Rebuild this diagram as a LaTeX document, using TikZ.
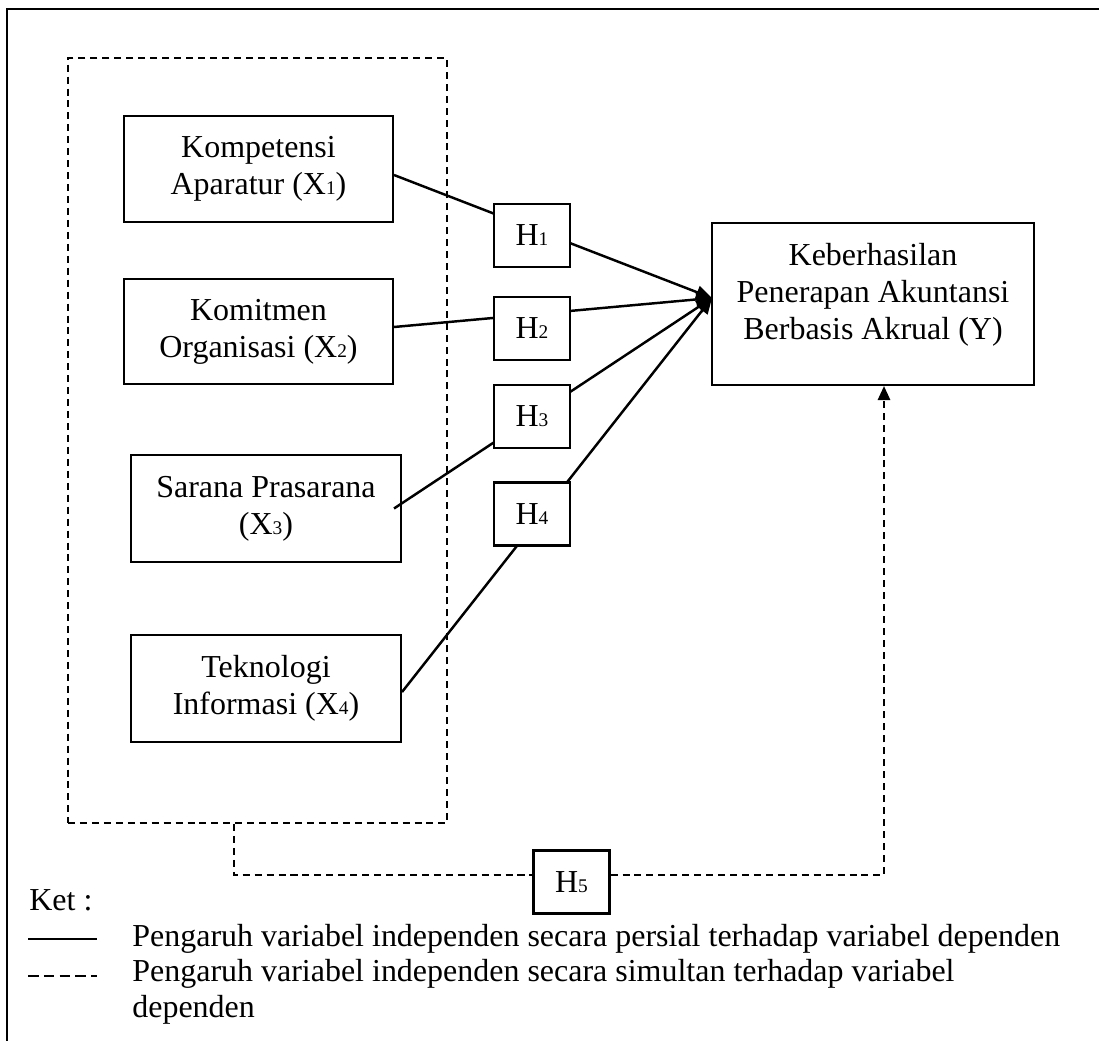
\documentclass[tikz,border=0pt]{standalone}
\usepackage{fontspec}
\setmainfont{Liberation Serif}
\usetikzlibrary{arrows.meta,calc}
% small index digit sitting on the baseline
\newcommand{\smalldigit}[1]{{\fontsize{11}{11}\selectfont #1}}
\begin{document}
\begin{tikzpicture}[x=0.02cm,y=-0.02cm,
  every node/.style={font=\fontsize{18.2}{21.2}\selectfont},
  box/.style={draw,line width=1.2pt,align=center,inner sep=0pt},
  hbox/.style={box,fill=white,minimum width=1.52cm,minimum height=1.26cm},
  link/.style={line width=1.4pt,-{Triangle[length=9pt,width=7.5pt]}},
  dashline/.style={line width=1.2pt,dash pattern=on 4pt off 2.8pt},
  legend/.style={anchor=base west,inner sep=0pt},
]
\useasboundingbox (0,0) rectangle (1099,1041);

% outer frame
\draw[line width=1.3pt] (7,1041) -- (7,9) -- (1099,9);

% group of independent variables
\node[box,dashline,minimum width=7.58cm,minimum height=15.3cm] (grp) at (257.5,440.5) {};

% independent variables
\node[box,minimum width=5.38cm,minimum height=2.12cm] (X1) at (258.5,169) {Kompetensi\\Aparatur (X\smalldigit{1})};
\node[box,minimum width=5.38cm,minimum height=2.10cm] (X2) at (258.5,331.5) {Komitmen\\Organisasi (X\smalldigit{2})};
\node[box,minimum width=5.40cm,minimum height=2.14cm] (X3) at (266,508.5) {Sarana Prasarana\\(X\smalldigit{3})};
\node[box,minimum width=5.40cm,minimum height=2.14cm] (X4) at (266,688.5) {Teknologi\\Informasi (X\smalldigit{4})};

% dependent variable
\node[box,minimum width=6.44cm,minimum height=3.24cm] (Y) at (873,304) {};
\node[align=center] (Ylabel) at (873,295) {Keberhasilan\\Penerapan Akuntansi\\Berbasis Akrual (Y)};

% partial effects
\coordinate (tip) at ($(Y.west)+(1,-6)$);
\draw[link] ($(X1.east)+(0,6)$) -- (tip);
\draw[link] ($(X2.east)+(0,-4.5)$) -- (tip);
\draw[link] ($(X3.east)+(-8,0)$) -- (tip);
\draw[link] ($(X4.east)+(0,3.5)$) -- (tip);

% hypotheses
\node[hbox] (H1) at (532,235.5) {H\smalldigit{1}};
\node[hbox] (H2) at (532,328.5) {H\smalldigit{2}};
\node[hbox] (H3) at (532,416.5) {H\smalldigit{3}};
\node[hbox] (H4) at (532,514) {H\smalldigit{4}};
\node[hbox] (H5) at (571.5,882) {H\smalldigit{5}};

% simultaneous effect
\coordinate (drop) at ($(grp.south west)+(167,0)$);
\draw[dashline] (drop) |- ($(H5.west)+(0,-7)$);
\draw[dashline,-{Triangle[length=8pt,width=7pt]}] ($(H5.east)+(0,-7)$) -| ($(Y.south)+(11,0)$);

% legend
\node[legend] (ket) at (29,910) {Ket :};
\coordinate (l1a) at (28,939);
\coordinate (l1b) at (97,939);
\draw[line width=0.8pt] (l1a) -- (l1b);
\node[legend] (leg1) at (132,946) {Pengaruh variabel independen secara persial terhadap variabel dependen};
\coordinate (l2a) at (28,976);
\coordinate (l2b) at (97,976);
\draw[line width=0.8pt,dash pattern=on 6pt off 3pt] (l2a) -- (l2b);
\node[legend] (leg2) at (132,981) {Pengaruh variabel independen secara simultan terhadap variabel};
\node[legend] (leg3) at (132,1017) {dependen};
\end{tikzpicture}
\end{document}
